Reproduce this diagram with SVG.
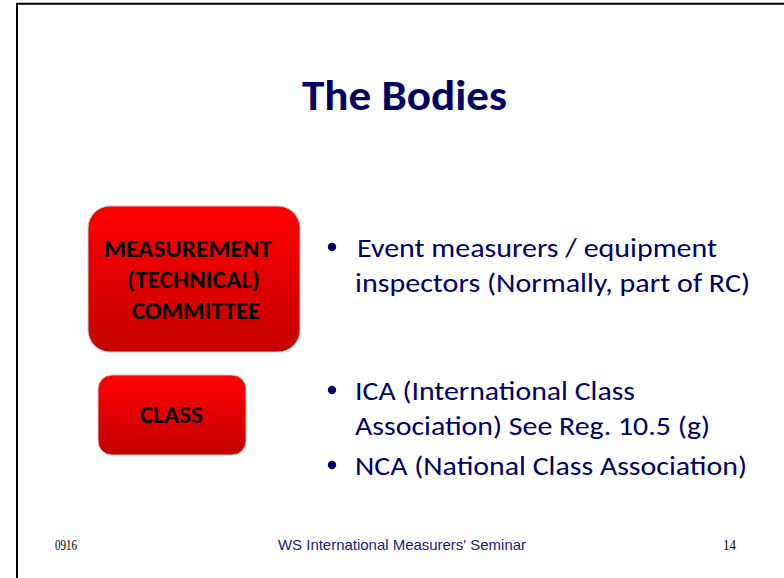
<svg xmlns="http://www.w3.org/2000/svg" width="784" height="578" viewBox="0 0 784 578">
<style>
.cal{font-family:Carlito,Lato,"Open Sans",sans-serif}
.title{font-size:42px;font-weight:bold;fill:#000066}
.bul{font-size:26px;fill:#000066}
.box{stroke:#c8c8c8;stroke-width:1}
.btxt{font-size:25px;font-weight:bold;fill:#000}
.foot{font-family:"Liberation Serif","Times New Roman",serif;font-size:15px;fill:#000}
.footc{font-family:"Liberation Sans",Arial,sans-serif;font-size:15px;fill:#1a1a78}
</style>
<defs>
<linearGradient id="red" x1="0" y1="0" x2="0" y2="1">
<stop offset="0" stop-color="#ff0000"/>
<stop offset="1" stop-color="#c40000"/>
</linearGradient>
</defs>
<rect width="784" height="578" fill="#fff"/>
<path d="M17,578 V3.7 H784" fill="none" stroke="#000" stroke-width="2"/>
<text id="title" class="cal title" x="302" y="110" textLength="205" lengthAdjust="spacingAndGlyphs">The Bodies</text>
<g id="measurement">
<rect class="box" x="88" y="206" width="212" height="146" rx="22" ry="22" fill="url(#red)"/>
<text class="cal btxt" x="104" y="257" textLength="168" lengthAdjust="spacingAndGlyphs">MEASUREMENT</text>
<text class="cal btxt" x="127" y="288" textLength="133" lengthAdjust="spacingAndGlyphs">(TECHNICAL)</text>
<text class="cal btxt" x="132" y="319" textLength="128" lengthAdjust="spacingAndGlyphs">COMMITTEE</text>
</g>
<g id="class">
<rect class="box" x="98" y="375" width="148" height="80" rx="14" ry="14" fill="url(#red)"/>
<text class="cal btxt" x="140" y="423" textLength="63" lengthAdjust="spacingAndGlyphs">CLASS</text>
</g>
<g id="bullets" class="cal bul">
<circle cx="332" cy="247" r="4.2" fill="#000066"/>
<text x="357" y="257" textLength="360" lengthAdjust="spacingAndGlyphs">Event measurers / equipment</text>
<text x="355" y="292" textLength="395" lengthAdjust="spacingAndGlyphs">inspectors (Normally, part of RC)</text>
<circle cx="332" cy="390" r="4.2" fill="#000066"/>
<text x="355" y="400" textLength="280" lengthAdjust="spacingAndGlyphs">ICA (International Class</text>
<text x="355" y="435" textLength="355" lengthAdjust="spacingAndGlyphs">Association) See Reg. 10.5 (g)</text>
<circle cx="332" cy="465" r="4.2" fill="#000066"/>
<text x="355" y="475" textLength="392" lengthAdjust="spacingAndGlyphs">NCA (National Class Association)</text>
</g>
<g id="footer">
<text class="foot" x="55" y="550" textLength="22" lengthAdjust="spacingAndGlyphs">0916</text>
<text class="footc" x="278" y="550" textLength="248" lengthAdjust="spacingAndGlyphs">WS International Measurers' Seminar</text>
<text class="foot" x="723" y="550" textLength="13" lengthAdjust="spacingAndGlyphs">14</text>
</g>
</svg>
